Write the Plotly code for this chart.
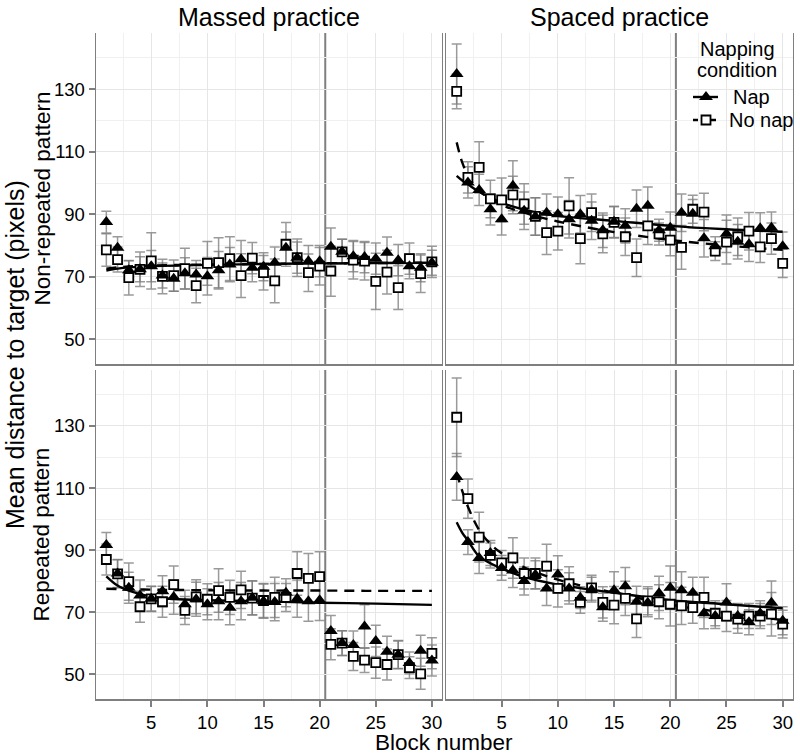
import plotly.graph_objects as go

BLOCKS = [1, 2, 3, 4, 5, 6, 7, 8, 9, 10, 11, 12, 13, 14, 15,
          16, 17, 18, 19, 20, 21, 22, 23, 24, 25, 26, 27, 28, 29, 30]
COLUMN_TITLES = ["Massed practice", "Spaced practice"]
ROW_TITLES = ["Non-repeated pattern", "Repeated pattern"]
LEGEND_TITLE = ["Napping", "condition"]
LEGEND_LABELS = ["Nap", "No nap"]
X_TICKS = [5, 10, 15, 20, 25, 30]
Y_TICKS = [50, 70, 90, 110, 130]
BREAK_BLOCK = 20.5

# Massed practice, non-repeated pattern
MASSED_NONREP_NAP = [87.5, 79.3, 72.1, 72.4, 73.4, 70.4, 69.4, 71.1, 70.7, 70.2, 72.1, 73.9, 75.6, 72.9, 73.2,
                     74.5, 79.3, 76.1, 75.0, 75.0, 79.6, 78.0, 76.6, 76.3, 75.8, 77.7, 75.3, 73.4, 72.9, 74.5]
MASSED_NONREP_NAP_ERR = [3.5, 3.5, 3, 4, 5, 4, 4, 5, 4.5, 6, 6, 5.5, 6, 4.5, 4.5,
                         5, 5, 5, 5, 5, 6, 4, 5, 5, 5, 5, 5, 4, 4.5, 4]
MASSED_NONREP_NONAP = [78.6, 75.5, 69.7, 72.4, 75.1, 70.1, 70.4, 72.6, 67.2, 74.3, 74.5, 75.8, 70.4, 76.0, 71.3,
                       68.7, 80.4, 76.1, 71.3, 73.4, 71.8, 78.0, 75.3, 75.0, 68.5, 71.5, 66.5, 75.8, 71.0, 74.8]
MASSED_NONREP_NONAP_ERR = [5.2, 4, 5.5, 5.5, 9, 5.5, 5, 6.5, 5.5, 7, 8, 7, 7, 5, 5.5,
                           7, 7, 6, 6, 6, 8, 4, 6, 6, 9, 7, 7, 5, 6, 5]
MASSED_NONREP_FIT_X = [1, 2, 3, 5, 10, 15, 20, 25, 30]
MASSED_NONREP_FIT_NAP = [72.0, 72.6, 73.0, 73.4, 73.8, 74.1, 74.3, 74.4, 74.5]
MASSED_NONREP_FIT_NONAP = [72.6, 73.0, 73.3, 73.6, 73.9, 74.1, 74.3, 74.4, 74.5]

# Spaced practice, non-repeated pattern
SPACED_NONREP_NAP = [134.9, 100.2, 97.8, 91.6, 88.4, 99.1, 91.1, 89.3, 90.5, 90.0, 88.4, 90.0, 87.9, 84.9, 87.6,
                     86.3, 91.8, 92.7, 84.9, 85.7, 90.5, 90.2, 82.3, 79.8, 83.8, 81.2, 80.4, 85.5, 85.7, 79.8]
SPACED_NONREP_NAP_ERR = [9.6, 5, 5, 5, 5, 8, 6, 6, 6, 5.5, 6, 6, 6, 5.5, 5,
                         5.5, 6, 6, 3.5, 5, 6, 4.5, 6, 3, 6, 5.5, 5.5, 5, 5, 4.5]
SPACED_NONREP_NONAP = [129.3, 101.8, 105.0, 94.9, 94.6, 96.2, 93.3, 89.3, 84.1, 84.6, 92.7, 82.2, 90.5, 83.7, 87.4,
                       82.8, 76.1, 86.3, 83.7, 81.7, 79.4, 91.6, 90.7, 78.2, 81.1, 82.8, 84.6, 79.6, 82.2, 74.3]
SPACED_NONREP_NONAP_ERR = [5.5, 5, 8.2, 6, 7, 6, 6.5, 6, 7, 6, 9, 8, 6, 6, 5,
                           6, 6, 6, 3.5, 5, 7, 4.5, 6, 3, 7, 6, 6, 5, 5, 4.5]
SPACED_NONREP_FIT_X = [1, 1.5, 2, 3, 5, 7, 10, 15, 20, 25, 30]
SPACED_NONREP_FIT_NAP = [102.3, 100.8, 99.6, 97.2, 93.7, 91.5, 89.5, 87.9, 86.3, 85.2, 84.4]
SPACED_NONREP_FIT_NONAP = [113.0, 106.5, 102.5, 97.5, 93.0, 90.5, 87.7, 84.3, 81.8, 80.0, 78.6]

# Massed practice, repeated pattern
MASSED_REP_NAP = [91.7, 82.5, 77.9, 75.4, 74.4, 76.8, 74.9, 72.6, 74.2, 72.6, 73.6, 71.5, 73.6, 74.7, 73.6,
                  73.3, 76.3, 74.4, 73.6, 73.9, 64.0, 60.1, 59.5, 65.4, 60.8, 57.3, 56.3, 53.7, 57.6, 54.5]
MASSED_REP_NAP_ERR = [4, 4.5, 5, 5, 4, 5, 5.5, 4.5, 5.5, 5, 6, 5.5, 6, 5.5, 5.5,
                      6, 4.5, 6, 6.5, 6.5, 5, 4, 4.5, 7, 5, 5, 4.5, 3.5, 5, 5]
MASSED_REP_NONAP = [87.0, 82.4, 79.9, 71.8, 74.3, 73.4, 78.9, 70.6, 75.0, 74.2, 77.0, 74.8, 77.2, 74.6, 73.8,
                    74.8, 74.8, 82.5, 80.9, 81.5, 59.7, 60.1, 55.8, 54.6, 53.8, 53.2, 56.4, 52.2, 50.2, 56.8]
MASSED_REP_NONAP_ERR = [5, 4.5, 6, 5, 4, 5, 6, 4.5, 5.5, 5, 7, 5.5, 6, 5.5, 5.5,
                        6.5, 4.5, 7, 8, 8, 5, 4, 4.5, 4, 5, 5, 4.5, 3.5, 5, 5]
MASSED_REP_FIT_X = [1, 2, 3, 5, 7, 10, 15, 20, 25, 30]
MASSED_REP_FIT_NAP = [81.6, 78.6, 77.0, 75.0, 74.3, 73.9, 73.5, 73.1, 72.8, 72.4]
MASSED_REP_FIT_NONAP = [77.6, 77.5, 77.4, 77.3, 77.2, 77.1, 77.0, 77.0, 76.9, 76.9]

# Spaced practice, repeated pattern
SPACED_REP_NAP = [113.6, 92.6, 87.5, 89.1, 84.3, 83.5, 80.1, 82.1, 77.7, 82.2, 77.7, 74.7, 77.3, 71.6, 77.1,
                  78.4, 73.4, 73.1, 76.1, 77.9, 77.1, 76.3, 69.7, 68.8, 73.2, 68.8, 66.8, 69.7, 73.1, 67.3]
SPACED_REP_NAP_ERR = [7.5, 4, 5, 4, 4, 5.5, 4.5, 4.5, 5.5, 6, 5, 3.5, 4, 4.5, 6,
                      6, 5, 4.5, 5.5, 7, 6, 5, 5, 4, 6, 4, 4, 4, 7, 4.5]
SPACED_REP_NONAP = [132.8, 106.6, 94.2, 88.3, 85.9, 87.5, 82.5, 82.5, 84.9, 77.7, 79.2, 73.2, 77.9, 73.2, 72.3,
                    74.5, 67.9, 73.7, 73.4, 72.6, 72.1, 71.5, 74.8, 69.7, 68.8, 67.8, 68.8, 68.8, 69.4, 66.2]
SPACED_REP_NONAP_ERR = [12.6, 6.3, 8, 4, 4, 6.5, 5, 5, 7, 6, 5.5, 3.5, 4, 5, 6,
                        5.5, 6, 4.5, 5.5, 7, 6, 5, 6.5, 4, 5, 4.5, 4, 4, 7, 4.5]
SPACED_REP_FIT_X = [1, 1.5, 2, 3, 4, 5, 7, 10, 15, 20, 25, 30]
SPACED_REP_FIT_NAP = [99.0, 95.6, 93.1, 88.0, 85.8, 84.1, 81.4, 78.9, 76.3, 73.9, 72.6, 71.3]
SPACED_REP_FIT_NONAP = [115.0, 109.0, 104.0, 96.5, 92.0, 89.0, 84.5, 80.5, 76.3, 72.5, 69.8, 67.5]

FONT = "Liberation Sans, Arial, Helvetica, sans-serif"
GREY = "#7f7f7f"
ERR_COLOR = "rgba(120,120,120,0.75)"
W, H = 800, 755

NAP_MARKER = dict(symbol="triangle-up", size=12, color="black", line=dict(width=0))
NONAP_MARKER = dict(symbol="square", size=9, color="white", line=dict(color="black", width=1.8))

panels = [
    ("x", "y", MASSED_NONREP_NAP, MASSED_NONREP_NAP_ERR, MASSED_NONREP_NONAP, MASSED_NONREP_NONAP_ERR,
     MASSED_NONREP_FIT_X, MASSED_NONREP_FIT_NAP, MASSED_NONREP_FIT_NONAP),
    ("x2", "y2", SPACED_NONREP_NAP, SPACED_NONREP_NAP_ERR, SPACED_NONREP_NONAP, SPACED_NONREP_NONAP_ERR,
     SPACED_NONREP_FIT_X, SPACED_NONREP_FIT_NAP, SPACED_NONREP_FIT_NONAP),
    ("x3", "y3", MASSED_REP_NAP, MASSED_REP_NAP_ERR, MASSED_REP_NONAP, MASSED_REP_NONAP_ERR,
     MASSED_REP_FIT_X, MASSED_REP_FIT_NAP, MASSED_REP_FIT_NONAP),
    ("x4", "y4", SPACED_REP_NAP, SPACED_REP_NAP_ERR, SPACED_REP_NONAP, SPACED_REP_NONAP_ERR,
     SPACED_REP_FIT_X, SPACED_REP_FIT_NAP, SPACED_REP_FIT_NONAP),
]

fig = go.Figure()
for xa, ya, nap, nap_err, nonap, nonap_err, fx, fnap, fnonap in panels:
    for vals, errs in ((nonap, nonap_err), (nap, nap_err)):
        fig.add_trace(go.Scatter(
            x=BLOCKS, y=vals, xaxis=xa, yaxis=ya, mode="markers",
            marker=dict(size=1, color="rgba(0,0,0,0)"),
            error_y=dict(type="data", array=errs, visible=True, color=ERR_COLOR,
                         thickness=1.5, width=5),
            showlegend=False, hoverinfo="skip"))
    fig.add_trace(go.Scatter(
        x=fx, y=fnonap, xaxis=xa, yaxis=ya, mode="lines", line_shape="spline",
        line=dict(color="black", width=2.4, dash="10px,7px"), showlegend=False))
    fig.add_trace(go.Scatter(
        x=fx, y=fnap, xaxis=xa, yaxis=ya, mode="lines", line_shape="spline",
        line=dict(color="black", width=2.4), showlegend=False))
    fig.add_trace(go.Scatter(
        x=BLOCKS, y=nonap, xaxis=xa, yaxis=ya, mode="markers",
        marker=NONAP_MARKER, name=LEGEND_LABELS[1], showlegend=False))
    fig.add_trace(go.Scatter(
        x=BLOCKS, y=nap, xaxis=xa, yaxis=ya, mode="markers",
        marker=NAP_MARKER, name=LEGEND_LABELS[0], showlegend=False))

# Hand-drawn legend keys on an invisible full-page overlay axis (pixel units)
LEG_KEY_X = [693, 706, 718]
LEG_ROW_Y = [97, 120]
fig.add_trace(go.Scatter(x=[LEG_KEY_X[0], LEG_KEY_X[2]], y=[LEG_ROW_Y[0]] * 2, xaxis="x5", yaxis="y5",
                         mode="lines", line=dict(color="black", width=2.4), showlegend=False, hoverinfo="skip"))
fig.add_trace(go.Scatter(x=[LEG_KEY_X[1]], y=[LEG_ROW_Y[0]], xaxis="x5", yaxis="y5",
                         mode="markers", marker=NAP_MARKER, showlegend=False, hoverinfo="skip"))
fig.add_trace(go.Scatter(x=[LEG_KEY_X[0], LEG_KEY_X[2]], y=[LEG_ROW_Y[1]] * 2, xaxis="x5", yaxis="y5",
                         mode="lines", line=dict(color="black", width=2.4, dash="5px,4px"),
                         showlegend=False, hoverinfo="skip"))
fig.add_trace(go.Scatter(x=[LEG_KEY_X[1]], y=[LEG_ROW_Y[1]], xaxis="x5", yaxis="y5",
                         mode="markers", marker=NONAP_MARKER, showlegend=False, hoverinfo="skip"))

XD_L = [0.1196, 0.5525]
XD_R = [0.5575, 0.991]
YD_T = [0.5179, 0.9563]
YD_B = [0.0742, 0.5099]


def xax(domain, anchor, labels):
    return dict(domain=domain, anchor=anchor, range=[0.05, 30.9],
                tickmode="array", tickvals=X_TICKS,
                showticklabels=labels, ticks="outside" if labels else "",
                ticklen=6, tickwidth=1.5, tickcolor=GREY,
                tickfont=dict(size=18.5, color="black", family=FONT),
                showgrid=True, gridcolor="#e6e6e6", gridwidth=1,
                minor=dict(tick0=0, dtick=2.5, showgrid=True, gridcolor="#f0f0f0", gridwidth=1),
                showline=True, linecolor=GREY, linewidth=2, zeroline=False, fixedrange=True)


def yax(domain, anchor, labels):
    return dict(domain=domain, anchor=anchor, range=[42.1, 148],
                tickmode="array", tickvals=Y_TICKS,
                showticklabels=labels, ticks="outside" if labels else "",
                ticklen=6, tickwidth=1.5, tickcolor=GREY,
                tickfont=dict(size=18.5, color="black", family=FONT),
                showgrid=True, gridcolor="#e6e6e6", gridwidth=1,
                minor=dict(tick0=0, dtick=10, showgrid=True, gridcolor="#f0f0f0", gridwidth=1),
                showline=True, linecolor=GREY, linewidth=1.3, mirror=True, zeroline=False, fixedrange=True)


shapes = []
for xr, yr in (("x", "y"), ("x2", "y2"), ("x3", "y3"), ("x4", "y4")):
    shapes.append(dict(type="line", xref=xr, yref=yr + " domain", x0=BREAK_BLOCK, x1=BREAK_BLOCK,
                       y0=0, y1=1, line=dict(color=GREY, width=2), layer="below"))
# legend background
shapes.append(dict(type="rect", xref="x2 domain", yref="y2 domain", x0=0.674, x1=0.997, y0=0.70, y1=0.997,
                   fillcolor="rgba(255,255,255,0.88)", line=dict(width=0), layer="below"))


def txt(text, px, py, size, angle=0, xanchor="center"):
    return dict(text=text, x=px / W, y=1 - py / H, xref="paper", yref="paper", textangle=angle,
                showarrow=False, font=dict(size=size, family=FONT, color="black"),
                xanchor=xanchor, yanchor="middle")


annotations = [
    txt(COLUMN_TITLES[0], (XD_L[0] + XD_L[1]) / 2 * W, 17, 25),
    txt(COLUMN_TITLES[1], (XD_R[0] + XD_R[1]) / 2 * W, 17, 25),
    txt(ROW_TITLES[0], 42, (1 - (YD_T[0] + YD_T[1]) / 2) * H, 22.5, -90),
    txt(ROW_TITLES[1], 42, (1 - (YD_B[0] + YD_B[1]) / 2) * H, 22.5, -90),
    txt("Mean distance to target (pixels)", 15, 355, 25, -90),
    txt("Block number", (XD_L[0] + XD_R[1]) / 2 * W, 742, 22.5),
    txt(LEGEND_TITLE[0], 737, 49, 20),
    txt(LEGEND_TITLE[1], 737, 70, 20),
    txt(LEGEND_LABELS[0], 731, LEG_ROW_Y[0], 20, xanchor="left"),
    txt(LEGEND_LABELS[1], 727, LEG_ROW_Y[1], 20, xanchor="left"),
]

fig.update_layout(
    width=W, height=H,
    margin=dict(l=0, r=0, t=0, b=0),
    paper_bgcolor="white", plot_bgcolor="rgba(0,0,0,0)",
    font=dict(family=FONT, color="black"),
    xaxis=xax(XD_L, "y", False), yaxis=yax(YD_T, "x", True),
    xaxis2=xax(XD_R, "y2", False), yaxis2=yax(YD_T, "x2", False),
    xaxis3=xax(XD_L, "y3", True), yaxis3=yax(YD_B, "x3", True),
    xaxis4=xax(XD_R, "y4", True), yaxis4=yax(YD_B, "x4", False),
    xaxis5=dict(domain=[0, 1], anchor="y5", range=[0, W], visible=False, fixedrange=True),
    yaxis5=dict(domain=[0, 1], anchor="x5", range=[H, 0], visible=False, fixedrange=True),
    shapes=shapes, annotations=annotations,
    showlegend=False,
)

fig.write_html(
    "out.html",
    config={"displayModeBar": False},
    post_script="document.body.style.margin='0';document.body.style.padding='0';"
                "document.body.style.overflow='hidden';",
)
